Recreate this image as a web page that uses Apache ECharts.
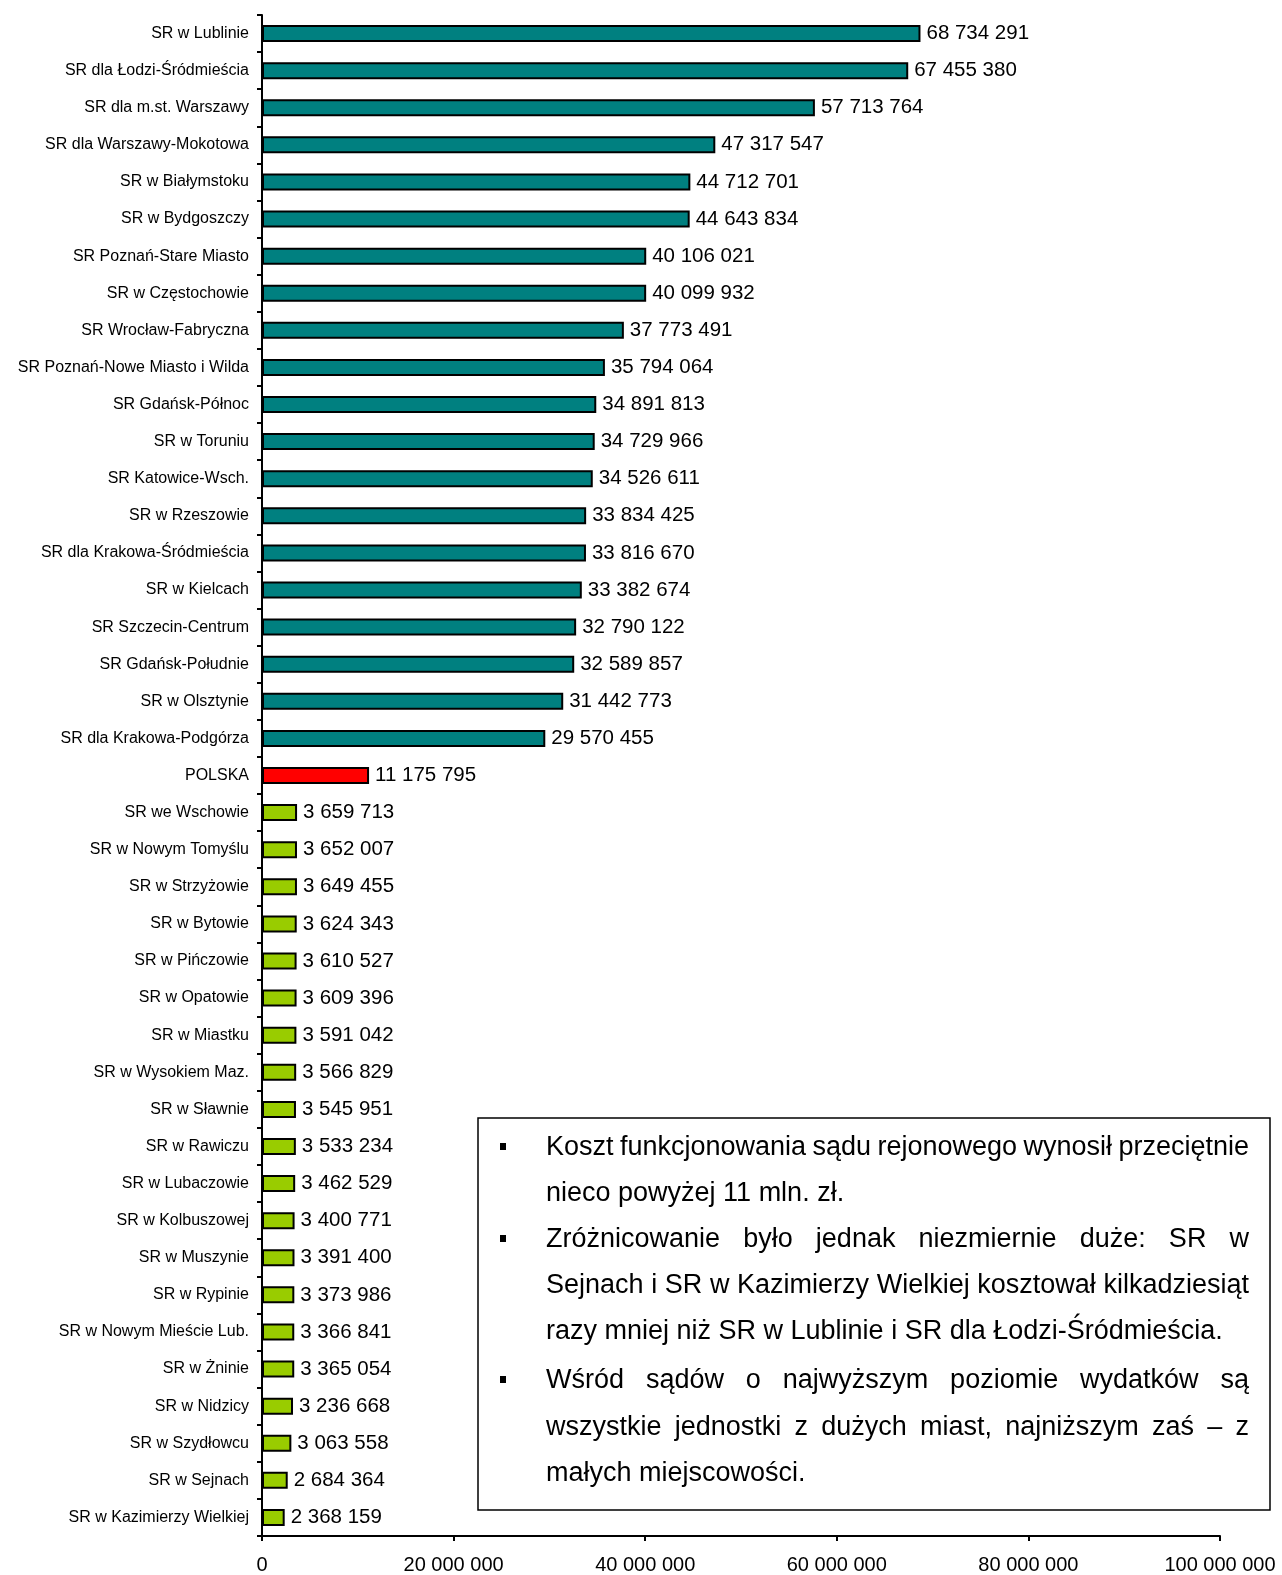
<!DOCTYPE html>
<html><head><meta charset="utf-8">
<script src="https://cdn.jsdelivr.net/npm/echarts@6/dist/echarts.min.js"></script>
<style>html,body{margin:0;padding:0;background:#fff}#c{width:1282px;height:1575px}</style>
</head><body><div id="c"></div>
<script>
const categories = ["SR w Lublinie","SR dla Łodzi-Śródmieścia","SR dla m.st. Warszawy","SR dla Warszawy-Mokotowa","SR w Białymstoku","SR w Bydgoszczy","SR Poznań-Stare Miasto","SR w Częstochowie","SR Wrocław-Fabryczna","SR Poznań-Nowe Miasto i Wilda","SR Gdańsk-Północ","SR w Toruniu","SR Katowice-Wsch.","SR w Rzeszowie","SR dla Krakowa-Śródmieścia","SR w Kielcach","SR Szczecin-Centrum","SR Gdańsk-Południe","SR w Olsztynie","SR dla Krakowa-Podgórza","POLSKA","SR we Wschowie","SR w Nowym Tomyślu","SR w Strzyżowie","SR w Bytowie","SR w Pińczowie","SR w Opatowie","SR w Miastku","SR w Wysokiem Maz.","SR w Sławnie","SR w Rawiczu","SR w Lubaczowie","SR w Kolbuszowej","SR w Muszynie","SR w Rypinie","SR w Nowym Mieście Lub.","SR w Żninie","SR w Nidzicy","SR w Szydłowcu","SR w Sejnach","SR w Kazimierzy Wielkiej"];
const values = [68734291,67455380,57713764,47317547,44712701,44643834,40106021,40099932,37773491,35794064,34891813,34729966,34526611,33834425,33816670,33382674,32790122,32589857,31442773,29570455,11175795,3659713,3652007,3649455,3624343,3610527,3609396,3591042,3566829,3545951,3533234,3462529,3400771,3391400,3373986,3366841,3365054,3236668,3063558,2684364,2368159];
const groups = ["big","big","big","big","big","big","big","big","big","big","big","big","big","big","big","big","big","big","big","big","avg","small","small","small","small","small","small","small","small","small","small","small","small","small","small","small","small","small","small","small","small"];
const groupColors = {big:"#008080", avg:"#ff0000", small:"#99cc00"};
const xTicks = {min:0, max:100000000, interval:20000000};
const paragraphs = [
  ["Koszt funkcjonowania sądu rejonowego wynosił przeciętnie","nieco powyżej 11 mln. zł."],
  ["Zróżnicowanie było jednak niezmiernie duże: SR w","Sejnach i SR w Kazimierzy Wielkiej kosztował kilkadziesiąt","razy mniej niż SR w Lublinie i SR dla Łodzi-Śródmieścia."],
  ["Wśród sądów o najwyższym poziomie wydatków są","wszystkie jednostki z dużych miast, najniższym zaś – z","małych miejscowości."]
];

const FONT = '"Liberation Sans", Arial, sans-serif';
function fmt(v){return String(v).replace(/\B(?=(\d{3})+(?!\d))/g,' ');}

const ctx = document.createElement('canvas').getContext('2d');
const tfs = 27;
ctx.font = tfs + 'px ' + FONT;
const textLeft = 546, textRight = 1249;
const lineYs = [[1148,1194],[1240,1286,1332],[1381,1428,1474]];
const gfx = [{type:'rect', shape:{x:478,y:1118,width:792,height:392}, style:{fill:'#fff',stroke:'#000',lineWidth:1.5}, z:10}];
paragraphs.forEach((para,pi)=>{
  gfx.push({type:'rect', shape:{x:500,y:lineYs[pi][0]-5,width:6,height:7}, style:{fill:'#000'}, z:11});
  para.forEach((line,li)=>{
    const y = lineYs[pi][li];
    const last = li === para.length-1;
    if(last){
      gfx.push({type:'text', x:textLeft, y:y, style:{text:line, font:tfs+'px '+FONT, fill:'#000', verticalAlign:'middle'}, z:11});
    } else {
      const words = line.split(' ');
      const widths = words.map(w=>ctx.measureText(w).width);
      const total = widths.reduce((a,b)=>a+b,0);
      const gap = (textRight-textLeft-total)/(words.length-1);
      let x = textLeft;
      words.forEach((w,wi)=>{
        gfx.push({type:'text', x:x, y:y, style:{text:w, font:tfs+'px '+FONT, fill:'#000', verticalAlign:'middle'}, z:11});
        x += widths[wi] + gap;
      });
    }
  });
});

const chart = echarts.init(document.getElementById('c'), null, {renderer:'canvas'});
chart.setOption({
  animation:false,
  backgroundColor:'#fff',
  grid:{left:262, right:62, top:15, bottom:38, containLabel:false},
  xAxis:{type:'value', min:xTicks.min, max:xTicks.max, interval:xTicks.interval,
    axisLine:{show:true, lineStyle:{color:'#000', width:2}},
    axisTick:{show:true, length:5, lineStyle:{color:'#000', width:2}},
    splitLine:{show:false},
    axisLabel:{color:'#000', fontSize:20, fontFamily:FONT, margin:19, formatter:v=>fmt(v)}
  },
  yAxis:{type:'category', data:categories, inverse:true,
    axisLine:{show:true, lineStyle:{color:'#000', width:2}},
    axisTick:{show:true, length:5, alignWithLabel:false, lineStyle:{color:'#000', width:2}},
    axisLabel:{color:'#000', fontSize:16, fontFamily:FONT, margin:13, interval:0}
  },
  series:[{type:'bar', barWidth:17,
    data: values.map((v,i)=>({value:v, itemStyle:{color:groupColors[groups[i]]}})),
    itemStyle:{borderColor:'#000', borderWidth:2},
    label:{show:true, position:'right', distance:6, color:'#000', fontSize:20.5, fontFamily:FONT, formatter:p=>fmt(p.value)}
  }],
  graphic: gfx
});
</script></body></html>
